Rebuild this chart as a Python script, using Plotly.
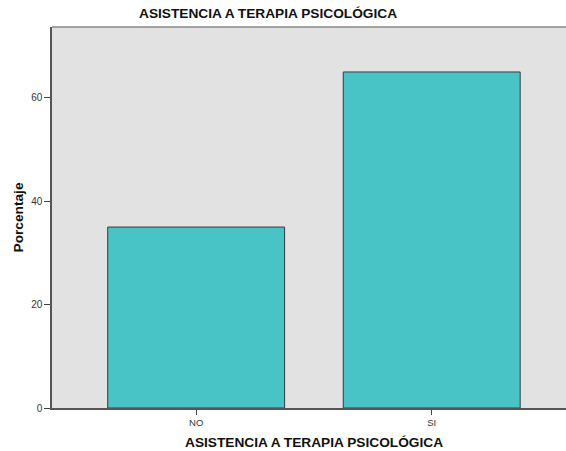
import plotly.graph_objects as go

categories = ["NO", "SI"]
percentages = [35, 65]
y_ticks = [0, 20, 40, 60]

title_text = "ASISTENCIA A TERAPIA PSICOLÓGICA"
x_title = "ASISTENCIA A TERAPIA PSICOLÓGICA"
y_title = "Porcentaje"

FONT = "Liberation Sans, Arial, sans-serif"

fig = go.Figure()
fig.add_trace(go.Bar(
    x=categories,
    y=percentages,
    width=0.751,
    marker=dict(color="#48C3C6", line=dict(color="#3a3a3a", width=1)),
    showlegend=False,
))

fig.update_layout(
    width=566,
    height=451,
    margin=dict(l=52, r=0, t=27, b=43),
    paper_bgcolor="white",
    plot_bgcolor="#E2E2E2",
    font=dict(family=FONT, color="#222"),
    xaxis=dict(
        type="category",
        range=[-0.612, 1.570],
        showgrid=False,
        zeroline=False,
        showline=True,
        linecolor="#555",
        linewidth=1.5,
        ticks="outside",
        ticklen=5,
        tickcolor="#444",
        tickfont=dict(size=9.5, color="#333"),
        fixedrange=True,
    ),
    yaxis=dict(
        range=[0, 73.7],
        tickvals=y_ticks,
        showgrid=False,
        zeroline=False,
        showline=True,
        linecolor="#555",
        linewidth=1.5,
        ticks="outside",
        ticklen=6,
        tickcolor="#444",
        tickfont=dict(size=10, color="#333"),
        fixedrange=True,
    ),
    shapes=[dict(type="line", xref="paper", yref="paper", x0=0, x1=1, y0=1, y1=1,
                 line=dict(color="#888", width=1.5))],
    annotations=[
        dict(text="<b>" + title_text + "</b>", xref="paper", yref="paper",
             x=0.4196, y=1, yshift=14, showarrow=False, xanchor="center", yanchor="middle",
             font=dict(size=13.7, color="#111", family=FONT)),
        dict(text="<b>" + x_title + "</b>", xref="paper", yref="paper",
             x=0.5098, y=0, yshift=-34, showarrow=False, xanchor="center", yanchor="middle",
             font=dict(size=13.7, color="#111", family=FONT)),
        dict(text="<b>" + y_title + "</b>", xref="paper", yref="paper",
             x=0, xshift=-34, y=0.5, textangle=-90, showarrow=False, xanchor="center", yanchor="middle",
             font=dict(size=13.7, color="#111", family=FONT)),
    ],
)

fig.write_html(
    "out.html",
    config={"displayModeBar": False, "responsive": False},
    post_script=(
        "var s=document.createElement('style');"
        "s.textContent='html,body{margin:0;padding:0;overflow:hidden;scrollbar-width:none;}"
        "::-webkit-scrollbar{display:none;width:0;height:0;}';"
        "document.head.appendChild(s);"
    ),
)
